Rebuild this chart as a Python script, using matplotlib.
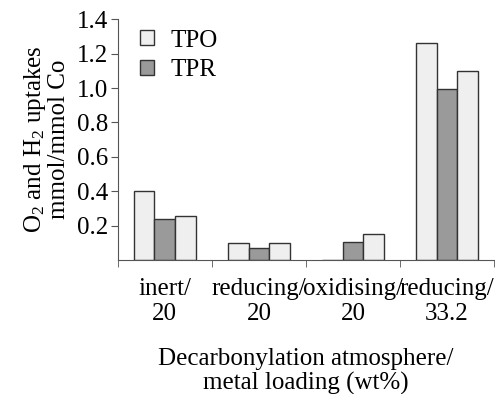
import numpy as np
import matplotlib
matplotlib.use("Agg")
import matplotlib.pyplot as plt
from matplotlib.ticker import FixedLocator

# data
categories = ["inert/\n20", "reducing/\n20", "oxidising/\n20", "reducing/\n33.2"]
tpo = [0.40, 0.097, 0.0, 1.265]
tpr = [0.237, 0.072, 0.103, 0.995]
tpo2 = [0.257, 0.097, 0.152, 1.10]
yticks = [0.2, 0.4, 0.6, 0.8, 1.0, 1.2, 1.4]

plt.rcParams['font.family'] = ['Liberation Serif', 'DejaVu Serif']
plt.rcParams['mathtext.fontset'] = 'custom'
plt.rcParams['mathtext.rm'] = 'Liberation Serif'
plt.rcParams['mathtext.it'] = 'Liberation Serif:italic'

light = "#efefef"
dark = "#9a9a9a"
edge = "#333333"
fs = 18

fig = plt.figure(figsize=(4.95, 3.94), dpi=100)
ax = fig.add_axes([0.238, 0.34, 0.76, 0.611])

x = np.arange(len(categories))
w = 0.22
ax.bar(x - w, tpo, w, color=light, edgecolor=edge, linewidth=1.0, label="TPO")
ax.bar(x, tpr, w, color=dark, edgecolor=edge, linewidth=1.0, label="TPR")
ax.bar(x + w, tpo2, w, color=light, edgecolor=edge, linewidth=1.0)

ax.set_xlim(-0.5, 3.5)
ax.set_ylim(0, 1.4)
ax.set_yticks(yticks)
ax.set_yticklabels([f"{v:.1f}" for v in yticks], fontsize=fs)
ax.set_xticks(x)
ax.set_xticklabels(categories, fontsize=fs, linespacing=1.15)
ax.tick_params(axis='x', which='major', length=0, pad=13)
ax.xaxis.set_minor_locator(FixedLocator([-0.5, 0.5, 1.5, 2.5, 3.5]))
ax.tick_params(axis='x', which='minor', length=5, color="#555555")
ax.tick_params(axis='y', length=5, color="#555555", pad=2)

for s in ["top", "right"]:
    ax.spines[s].set_visible(False)
for s in ["left", "bottom"]:
    ax.spines[s].set_color("#555555")

ax.set_ylabel("O$_2$ and H$_2$ uptakes\nmmol/mmol Co", fontsize=fs, linespacing=1.0, labelpad=5)
ax.set_xlabel("Decarbonylation atmosphere/\nmetal loading (wt%)", fontsize=fs, linespacing=1.1, labelpad=17)

ax.legend(loc="upper left", bbox_to_anchor=(0.0, 1.05), frameon=False, fontsize=fs,
          handlelength=0.55, handleheight=0.55, handletextpad=0.65, labelspacing=0.3)

fig.savefig("out.png", dpi=100)
